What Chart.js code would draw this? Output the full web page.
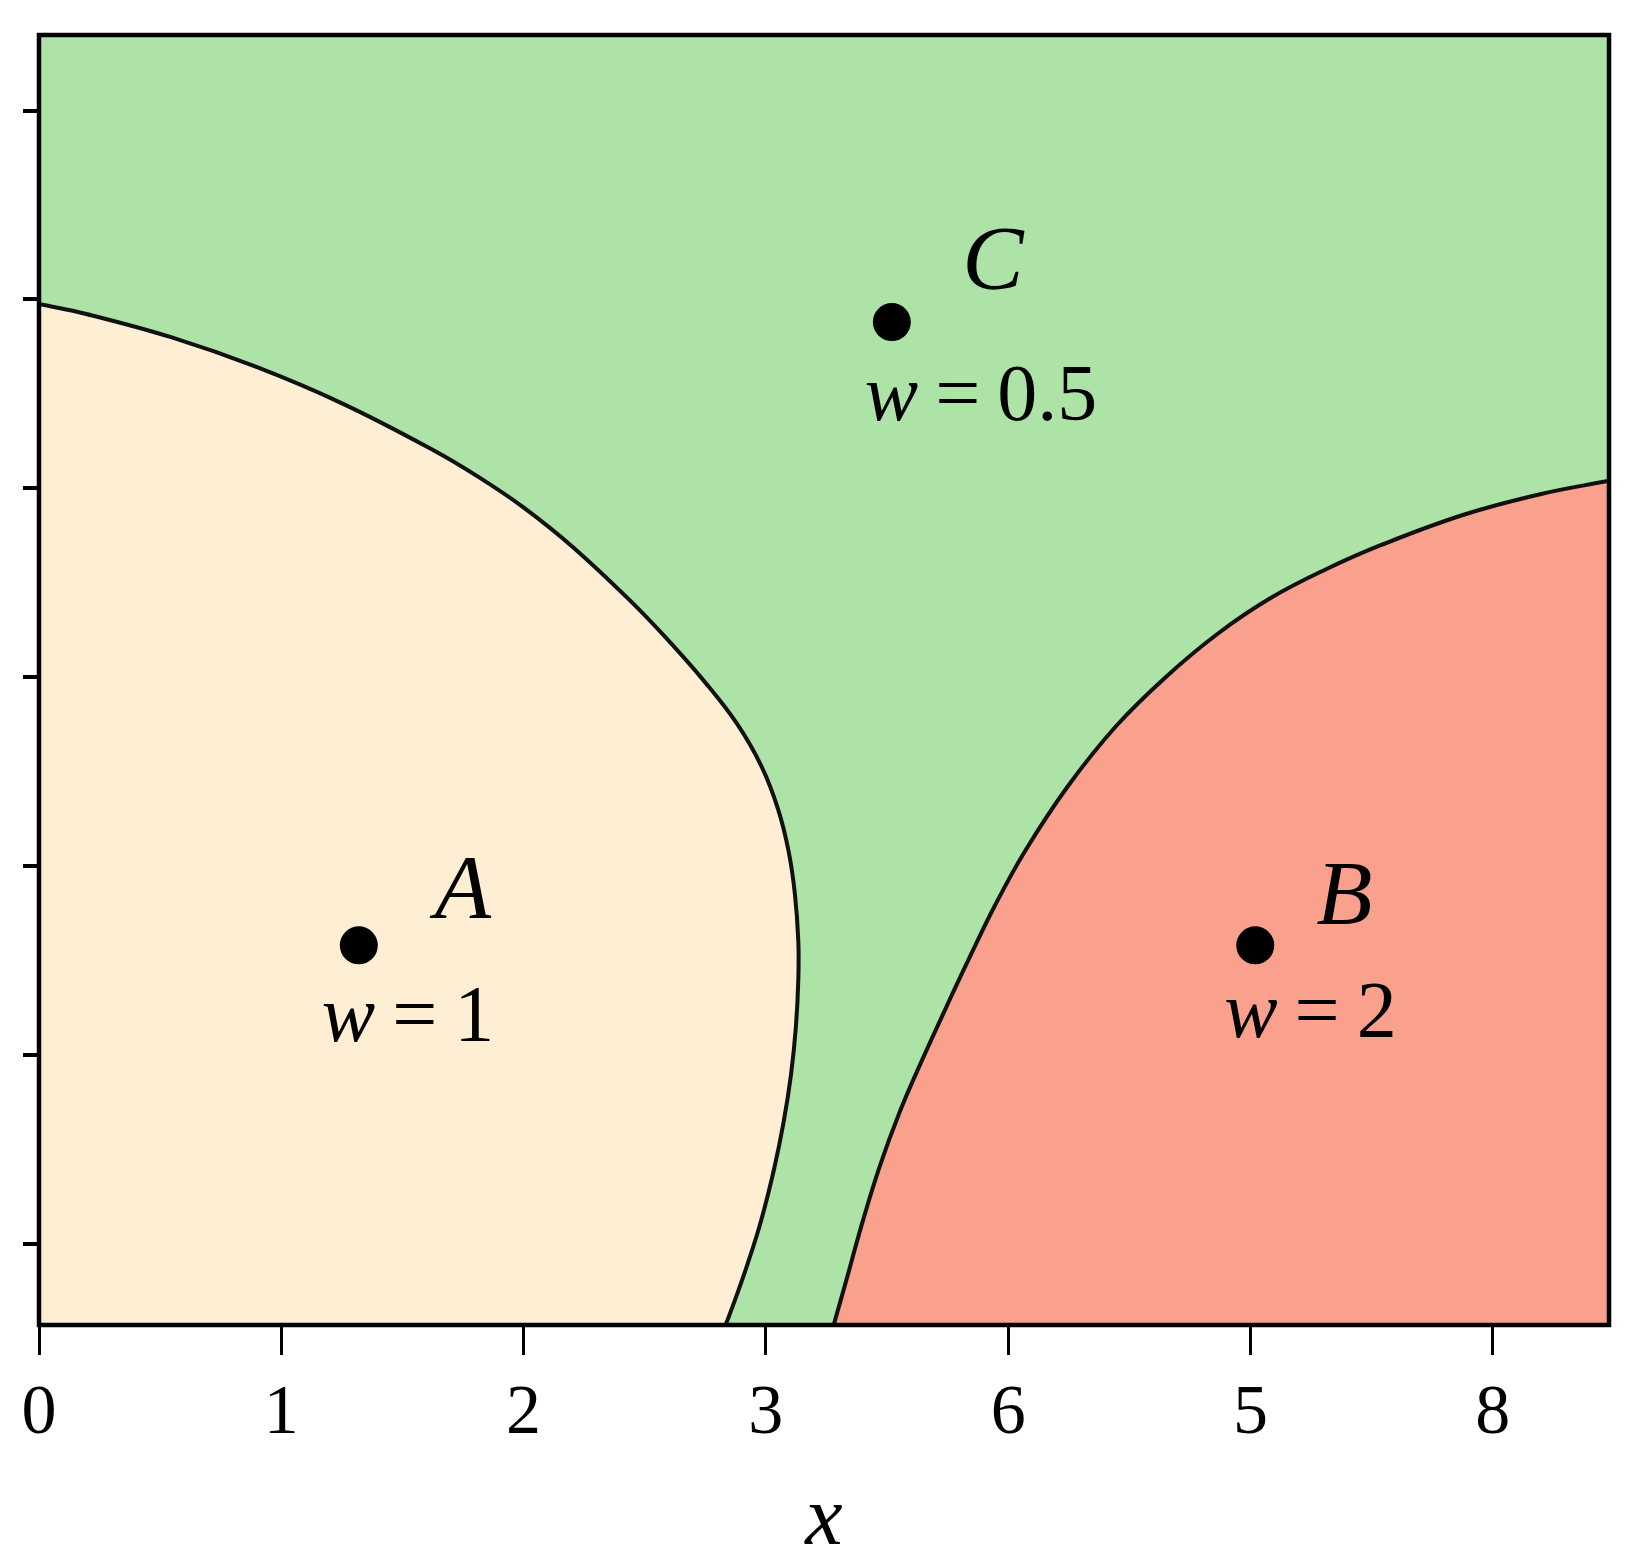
<!DOCTYPE html>
<html>
<head>
<meta charset="utf-8">
<script src="https://cdn.jsdelivr.net/npm/chart.js@4.4.1/dist/chart.umd.min.js"></script>
<style>
  html, body { margin: 0; padding: 0; background: #ffffff; }
  #wrap { width: 1640px; height: 1568px; position: relative; }
</style>
</head>
<body>
<div id="wrap"><canvas id="regionChart"></canvas></div>
<script>
// axes
const xTickPos = [0, 1, 2, 3, 4, 5, 6];
const xTickLabels = ['0', '1', '2', '3', '6', '5', '8'];
const yTickPos = [0, 1, 2, 3, 4, 5, 6];
const xRange = [0, 6.48];
const yRange = [-0.43, 6.40];

// sites and their weights
const siteNames = ['A', 'B', 'C'];
const siteWeights = ['1', '2', '0.5'];
const siteX = [1.32, 5.02, 3.52];
const siteY = [1.58, 1.58, 4.88];

// boundary between A and C (read bottom to top)
const boundaryAY = [-0.43, -0.30, -0.105, 0.121, 0.396, 0.649, 0.898, 1.149, 1.400, 1.601, 1.851, 2.078, 2.303, 2.528, 2.755, 2.979, 3.205, 3.405, 3.688, 3.900, 4.059, 4.200, 4.447, 4.641, 4.800, 4.923, 4.976];
const boundaryAX = [2.834, 2.872, 2.925, 2.980, 3.034, 3.074, 3.104, 3.124, 3.134, 3.134, 3.120, 3.094, 3.050, 2.982, 2.880, 2.745, 2.590, 2.440, 2.204, 1.998, 1.815, 1.630, 1.255, 0.900, 0.545, 0.195, 0];

// boundary between B and C (read bottom to top)
const boundaryBY = [-0.43, -0.18, 0.12, 0.41, 0.69, 0.93, 1.24, 1.50, 1.79, 2.08, 2.42, 2.74, 3.00, 3.23, 3.42, 3.57, 3.70, 3.86, 3.97, 4.04];
const boundaryBX = [3.28, 3.335, 3.40, 3.47, 3.55, 3.63, 3.74, 3.835, 3.945, 4.07, 4.245, 4.445, 4.65, 4.865, 5.085, 5.31, 5.54, 5.88, 6.20, 6.48];

const GREEN = '#ade3a7';
const CREAM = '#feefd4';
const SALMON = '#f9a18c';
const FAMILY = "'Liberation Serif', 'DejaVu Serif', serif";

// label placement around each dot (pixels)
const nameOffset = [[104, -27], [89, -21], [101, -33]];
const weightOffset = [[-37, 96], [-31, 92], [-27, 98]];

function toPoints(xs, ys) {
  return xs.map((x, i) => ({x: x, y: ys[i]}));
}

function drawWeight(ctx, x, y, value) {
  const gap = 17;
  ctx.font = 'italic 80px ' + FAMILY;
  ctx.fillText('w', x, y);
  let cx = x + ctx.measureText('w').width + gap;
  ctx.font = '80px ' + FAMILY;
  ctx.fillText('=', cx, y);
  cx += ctx.measureText('=').width + gap;
  ctx.fillText(value, cx, y);
}

const regionPlugin = {
  id: 'regions',
  beforeDatasetsDraw(chart) {
    const {ctx, chartArea: a} = chart;
    ctx.save();
    ctx.fillStyle = GREEN;
    ctx.fillRect(a.left, a.top, a.right - a.left, a.bottom - a.top);
    ctx.restore();
  },
  afterDatasetsDraw(chart) {
    const {ctx, chartArea: a} = chart;
    ctx.save();
    ctx.strokeStyle = '#000';
    ctx.lineWidth = 4.5;
    ctx.strokeRect(a.left, a.top, a.right - a.left, a.bottom - a.top);

    const pts = chart.getDatasetMeta(0).data;
    ctx.fillStyle = '#000';
    ctx.textBaseline = 'alphabetic';
    pts.forEach((p, i) => {
      ctx.font = 'italic 92px ' + FAMILY;
      ctx.textAlign = 'center';
      ctx.fillText(siteNames[i], p.x + nameOffset[i][0], p.y + nameOffset[i][1]);
      ctx.textAlign = 'left';
      drawWeight(ctx, p.x + weightOffset[i][0], p.y + weightOffset[i][1], siteWeights[i]);
    });
    ctx.restore();
  }
};

const ctx = document.getElementById('regionChart').getContext('2d');
new Chart(ctx, {
  type: 'line',
  data: {
    datasets: [
      {
        label: 'sites',
        data: toPoints(siteX, siteY),
        showLine: false,
        pointRadius: 19,
        pointHoverRadius: 19,
        pointBackgroundColor: '#000',
        pointBorderWidth: 0
      },
      {
        label: 'A',
        data: toPoints(boundaryAX, boundaryAY),
        borderColor: '#111',
        borderWidth: 4,
        pointRadius: 0,
        tension: 0.4,
        backgroundColor: CREAM,
        fill: {value: xRange[0]}
      },
      {
        label: 'B',
        data: toPoints(boundaryBX, boundaryBY),
        borderColor: '#111',
        borderWidth: 4,
        pointRadius: 0,
        tension: 0.4,
        backgroundColor: SALMON,
        fill: {value: xRange[1]}
      }
    ]
  },
  options: {
    indexAxis: 'y',
    responsive: true,
    maintainAspectRatio: false,
    animation: false,
    events: [],
    layout: { padding: {top: 35, right: 31, left: 0, bottom: 0} },
    plugins: {
      legend: {display: false},
      tooltip: {enabled: false}
    },
    scales: {
      x: {
        type: 'linear',
        position: 'bottom',
        min: xRange[0],
        max: xRange[1],
        afterBuildTicks: s => { s.ticks = xTickPos.map(v => ({value: v})); },
        afterFit: s => { s.height = 243; },
        border: {display: false},
        grid: {drawOnChartArea: false, drawTicks: true, tickLength: 30, color: '#000', lineWidth: 3},
        ticks: {
          callback: (v, i) => xTickLabels[i],
          font: {family: FAMILY, size: 70},
          color: '#000',
          padding: 18,
          maxRotation: 0,
          autoSkip: false
        },
        title: {
          display: true,
          text: 'x',
          color: '#000',
          font: {family: FAMILY, size: 84, style: 'italic', lineHeight: 1.1},
          padding: {top: 0, bottom: 0}
        }
      },
      y: {
        type: 'linear',
        position: 'left',
        min: yRange[0],
        max: yRange[1],
        afterBuildTicks: s => { s.ticks = yTickPos.map(v => ({value: v})); },
        afterFit: s => { s.width = 39; },
        border: {display: false},
        grid: {drawOnChartArea: false, drawTicks: true, tickLength: 16, color: '#000', lineWidth: 4},
        ticks: {display: false}
      }
    }
  },
  plugins: [regionPlugin]
});
</script>
</body>
</html>
